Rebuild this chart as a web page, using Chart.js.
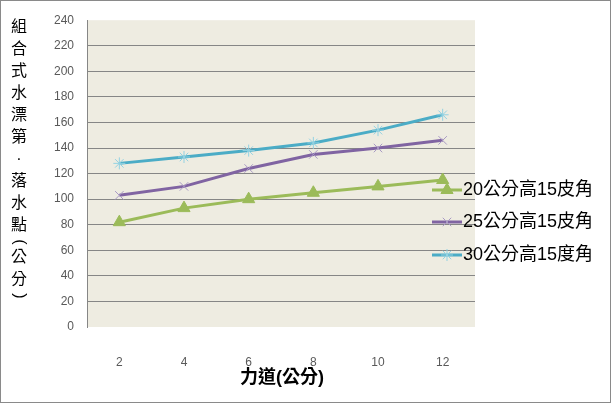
<!DOCTYPE html>
<html lang="zh-Hant">
<head>
    <meta charset="UTF-8">
    <title>力道與落水點</title>
    <script src="https://cdn.jsdelivr.net/npm/chart.js"></script>
    <style>
        html, body { margin: 0; padding: 0; background: #fff; }
        #wrap { width: 611px; height: 403px; position: relative; }
    </style>
</head>
<body>
    <div id="wrap">
        <canvas id="throwChart" width="611" height="403"></canvas>
    </div>

    <script>
        // Data
        const forces = ['2', '4', '6', '8', '10', '12'];
        const seriesLabels = ['20公分高15皮角', '25公分高15皮角', '30公分高15度角'];
        const height20 = [82, 93, 100, 105, 110, 115];
        const height25 = [103, 110, 124, 135, 140, 146];
        const height30 = [128, 133, 138, 144, 154, 166];
        const yTitleChars = ['組', '合', '式', '水', '漂', '第', '·', '落', '水', '點', '(', '公', '分', ')'];
        const xTitle = '力道(公分)';

        const baseFont = '"Liberation Sans", "Noto Sans CJK TC", sans-serif';

        // Beige plot background + outer frame
        const backdrop = {
            id: 'backdrop',
            beforeDraw(chart) {
                const { ctx, chartArea: a } = chart;
                ctx.save();
                ctx.fillStyle = '#EEECE1';
                ctx.fillRect(a.left, a.top, a.right - a.left, a.bottom - a.top);
                ctx.restore();
            },
            afterDraw(chart) {
                const ctx = chart.ctx;
                ctx.save();
                ctx.strokeStyle = '#8a8a8a';
                ctx.lineWidth = 1;
                ctx.strokeRect(0.5, 0.5, chart.width - 1, chart.height - 1);
                ctx.restore();
            }
        };

        // Axis titles: stacked characters on the left, plain text below
        const axisTitles = {
            id: 'axisTitles',
            afterDraw(chart) {
                const ctx = chart.ctx;
                ctx.save();
                ctx.fillStyle = '#000';
                ctx.textAlign = 'center';
                ctx.textBaseline = 'middle';
                ctx.font = '16px ' + baseFont;
                let y = 28;
                yTitleChars.forEach(ch => {
                    if (ch === '(' || ch === ')') {
                        ctx.save();
                        ctx.translate(19, y - 6);
                        ctx.rotate(Math.PI / 2);
                        ctx.fillText(ch, 0, 0);
                        ctx.restore();
                        y += 10;
                    } else {
                        ctx.fillText(ch, 19, y);
                        y += 22;
                    }
                });
                ctx.font = 'bold 18px ' + baseFont;
                ctx.fillText(xTitle, 282, 378);
                ctx.restore();
            }
        };

        // Legend drawn over the right edge of the plot
        const sideLegend = {
            id: 'sideLegend',
            afterDraw(chart) {
                const ctx = chart.ctx;
                const rows = [190, 222, 255];
                ctx.save();
                chart.data.datasets.forEach((ds, i) => {
                    const y = rows[i];
                    ctx.strokeStyle = ds.borderColor;
                    ctx.lineWidth = 3;
                    ctx.beginPath();
                    ctx.moveTo(432, y);
                    ctx.lineTo(462, y);
                    ctx.stroke();
                    ctx.fillStyle = ds.pointBackgroundColor;
                    ctx.strokeStyle = ds.pointBorderColor;
                    ctx.lineWidth = 1;
                    Chart.helpers.drawPoint(ctx, {
                        pointStyle: ds.pointStyle, radius: ds.pointRadius, rotation: 0, borderWidth: 1
                    }, 447, y);
                    ctx.fillStyle = '#000';
                    ctx.font = '18px ' + baseFont;
                    ctx.textAlign = 'left';
                    ctx.textBaseline = 'middle';
                    ctx.fillText(ds.label, 463, y);
                });
                ctx.restore();
            }
        };

        const ctx = document.getElementById('throwChart').getContext('2d');
        new Chart(ctx, {
            type: 'line',
            data: {
                labels: forces,
                datasets: [
                    {
                        label: seriesLabels[0],
                        data: height20,
                        borderColor: '#9BBB59',
                        borderWidth: 3,
                        pointStyle: 'triangle',
                        pointRadius: 7,
                        pointBorderWidth: 1,
                        pointBackgroundColor: '#9BBB59',
                        pointBorderColor: '#9BBB59',
                        tension: 0
                    },
                    {
                        label: seriesLabels[1],
                        data: height25,
                        borderColor: '#8064A2',
                        borderWidth: 3,
                        pointStyle: 'crossRot',
                        pointRadius: 6,
                        pointBorderWidth: 1,
                        pointBackgroundColor: '#A899C4',
                        pointBorderColor: '#A899C4',
                        tension: 0
                    },
                    {
                        label: seriesLabels[2],
                        data: height30,
                        borderColor: '#4BACC6',
                        borderWidth: 3,
                        pointStyle: 'star',
                        pointRadius: 6,
                        pointBorderWidth: 1,
                        pointBackgroundColor: '#93D2E2',
                        pointBorderColor: '#93D2E2',
                        tension: 0
                    }
                ]
            },
            options: {
                responsive: false,
                animation: false,
                events: [],
                layout: { padding: { left: 0, top: 20, right: 136, bottom: 0 } },
                scales: {
                    x: {
                        offset: true,
                        grid: { display: false },
                        border: { display: false },
                        ticks: {
                            color: '#595959',
                            padding: 20,
                            font: { family: baseFont, size: 12 }
                        },
                        afterFit(scale) { scale.height = 76; }
                    },
                    y: {
                        min: 0,
                        max: 240,
                        ticks: {
                            stepSize: 20,
                            color: '#595959',
                            padding: 13,
                            font: { family: baseFont, size: 12 }
                        },
                        grid: {
                            drawTicks: false,
                            color: c => (c.tick.value === 0 || c.tick.value === 240) ? 'rgba(0,0,0,0)' : '#868686'
                        },
                        border: { display: true, color: '#868686' },
                        afterFit(scale) { scale.width = 87; }
                    }
                },
                plugins: {
                    legend: { display: false },
                    tooltip: { enabled: false }
                }
            },
            plugins: [backdrop, axisTitles, sideLegend]
        });
    </script>
</body>
</html>
